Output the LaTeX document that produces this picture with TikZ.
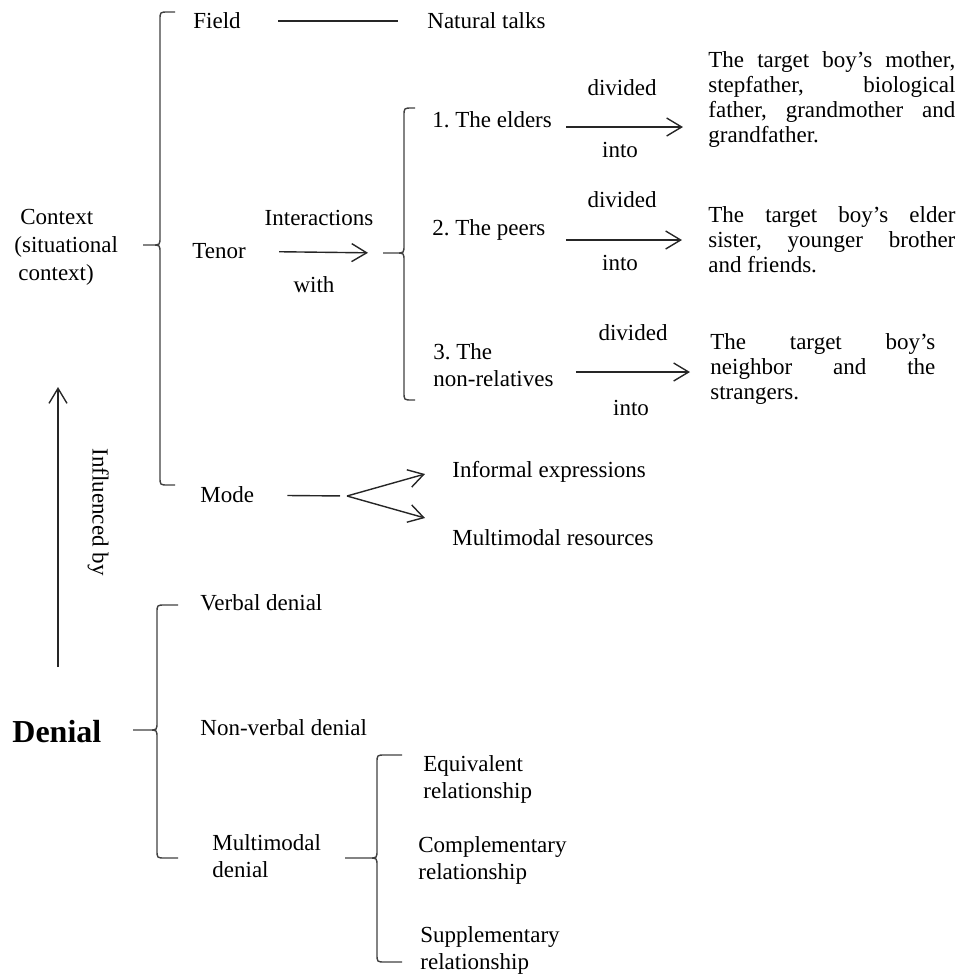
\documentclass[tikz,border=0pt]{standalone}
\usepackage{fontspec}
\setmainfont{Liberation Serif}
\usetikzlibrary{arrows.meta}
\usetikzlibrary{calc}
\frenchspacing

% curly brace: hook x, spine x, tip x, top y, tip y, bottom y
\newcommand{\curlybrace}[6]{%
  \draw[bracestroke] (#1,#4) -- ({#2+8},#4) .. controls (#2,#4) .. (#2,{#4+8})
    -- (#2,{#5-8}) .. controls (#2,#5) .. ({#2-8},#5) -- (#3,#5)
    -- ({#2-8},#5) .. controls (#2,#5) .. (#2,{#5+8})
    -- (#2,{#6-8}) .. controls (#2,#6) .. ({#2+8},#6) -- (#1,#6);}

\begin{document}
\begin{tikzpicture}[x=0.5pt, y=-0.5pt,
  lbl/.style={anchor=west, inner sep=0pt, font=\fontsize{11.5}{13.5}\selectfont,
    text height=9pt, text depth=1.5pt},
  multi/.style={anchor=west, inner sep=0pt, align=left,
    font=\fontsize{11.5}{13.5}\selectfont},
  para/.style={anchor=west, inner sep=0pt, align=left,
    font=\fontsize{11.5}{12.5}\selectfont},
  link/.style={draw=black!85, line width=0.7pt},
  arr/.style={link, -{Straight Barb[length=7.5pt, width=9pt]}},
  bracestroke/.style={draw=black!75, line width=0.7pt}]

  \useasboundingbox (0,0) rectangle (957,976);

  % --- Context side ---
  \node[multi, font=\fontsize{11.5}{14}\selectfont] (context) at (14,247)
    {\hspace{3pt}Context\\(situational\\\hspace{2pt}context)};
  \curlybrace{175}{160}{143}{12}{245}{485}

  \node[lbl] (field) at (193,21) {Field};
  \node[lbl] (talks) at (427,21) {Natural talks};
  \draw[link, shorten <=18.5pt, shorten >=14.5pt] (field) -- (talks);

  \node[lbl] (tenor) at (192,251) {Tenor};
  \node[lbl, anchor=center] (interact) at (319,218) {Interactions};
  \node[lbl, anchor=center] (with) at (314,285) {with};
  \coordinate (tenortip) at (383,253);
  \draw[arr, shorten <=16.5pt, shorten >=7.5pt] (tenor) -- (tenortip);
  \curlybrace{415}{404}{383}{108}{253}{400}

  % the three groups
  \node[lbl] (elders) at (432,120) {1. The elders};
  \node[lbl] (peers) at (432,228) {2. The peers};
  \node[multi] (nonrel) at (433,365) {3. The\\non-relatives};

  \node[para] (elderslist) at (708,99)
    {\makebox[123.5pt][s]{The target boy’s mother,}\\
     \makebox[123.5pt][s]{stepfather, biological}\\
     \makebox[123.5pt][s]{father, grandmother and}\\
     grandfather.};
  \node[para] (peerslist) at (708,240)
    {\makebox[123.5pt][s]{The target boy’s elder}\\
     \makebox[123.5pt][s]{sister, younger brother}\\
     and friends.};
  \node[para] (nonrellist) at (710,369)
    {\makebox[112.5pt][s]{The target boy’s}\\
     \makebox[112.5pt][s]{neighbor and the}\\
     strangers.};

  \draw[arr, shorten <=7pt, shorten >=12.5pt]
    ($(elders.east)+(0,7)$) -- ($(elders.east -| elderslist.west)+(0,7)$);
  \draw[arr, shorten <=10pt, shorten >=13pt]
    ($(peers.east)+(0,12)$) -- ($(peers.east -| peerslist.west)+(0,12)$);
  \draw[arr, shorten <=11pt, shorten >=10pt]
    ($(nonrel.east)+(0,7)$) -- ($(nonrel.east -| nonrellist.west)+(0,7)$);

  \node[lbl, anchor=center] (div1) at (622,88) {divided};
  \node[lbl, anchor=center] (into1) at (620,150) {into};
  \node[lbl, anchor=center] (div2) at (622,200) {divided};
  \node[lbl, anchor=center] (into2) at (620,263) {into};
  \node[lbl, anchor=center] (div3) at (633,333) {divided};
  \node[lbl, anchor=center] (into3) at (631,408) {into};

  % Mode and its two branches
  \node[lbl] (mode) at (200,495) {Mode};
  \node[lbl] (informal) at (452,470) {Informal expressions};
  \node[lbl] (multires) at (452,538) {Multimodal resources};
  \coordinate (fork) at (347,496);
  \draw[link, shorten <=16.5pt, shorten >=3.5pt] (mode) -- (fork);
  \draw[arr] (fork) -- ($(informal.west)+(-27,4)$);
  \draw[arr] (fork) -- ($(multires.west)+(-27,-20)$);

  % --- influence arrow ---
  \coordinate (infbot) at (58,667);
  \coordinate (inftop) at (58,387);
  \draw[arr] (infbot) -- (inftop);
  \node[lbl, anchor=center, rotate=-90] (influenced) at (100,512) {Influenced by};

  % --- Denial side ---
  \node[anchor=west, inner sep=0pt, font=\fontsize{16}{18}\selectfont\bfseries]
    (denial) at (12,732) {Denial};
  \curlybrace{178}{157}{133}{605}{730}{858}

  \node[lbl] (verbal) at (200,603) {Verbal denial};
  \node[lbl] (nonverbal) at (200,728) {Non-verbal denial};
  \node[multi] (multidenial) at (212,856) {Multimodal\\denial};

  \curlybrace{402}{377}{345}{755}{858}{962}
  \node[multi] (equiv) at (423,779) {Equivalent\\relationship};
  \node[multi] (compl) at (418,860) {Complementary\\relationship};
  \node[multi] (suppl) at (420,950) {Supplementary\\relationship};

\end{tikzpicture}
\end{document}
